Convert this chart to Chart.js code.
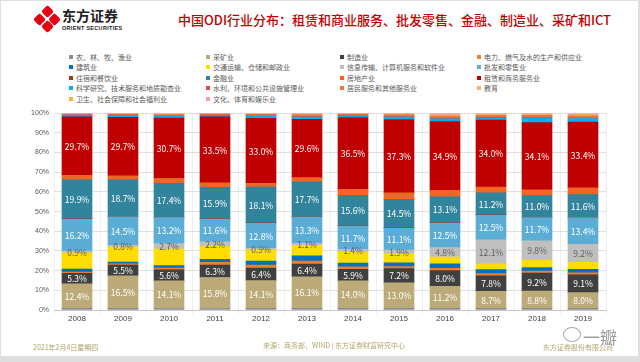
<!DOCTYPE html>
<html><head><meta charset="utf-8">
<script src="https://cdn.jsdelivr.net/npm/chart.js@4.4.1/dist/chart.umd.min.js"></script>
<style>
html,body{margin:0;padding:0;}
body{width:640px;height:362px;background:#dedede;position:relative;overflow:hidden;font-family:"Noto Sans CJK SC","Noto Sans",sans-serif;}
#panel{position:absolute;left:1px;top:1px;width:637px;height:355px;background:#fff;}
.logo{position:absolute;left:34px;top:6px;width:26px;height:26px;}
.logo div{position:absolute;width:9px;height:9px;background:#e60012;border-radius:2px;transform:rotate(45deg);}
#brand{position:absolute;left:62px;top:7px;font-size:14px;font-weight:bold;color:#222;line-height:16px;letter-spacing:0px;}
#brandEn{position:absolute;left:62px;top:25px;font-size:5.5px;font-weight:bold;color:#222;font-family:"Liberation Sans",sans-serif;letter-spacing:0.3px;}
#title{position:absolute;left:178px;top:11px;font-size:13px;color:#c00000;line-height:18px;white-space:nowrap;font-weight:500;}
#legend{position:absolute;left:0;top:52px;}
.li{position:absolute;font-size:7px;color:#595959;white-space:nowrap;line-height:10px;}
.li span{display:inline-block;width:4px;height:4px;margin-right:3px;vertical-align:1px;}
#chartBox{position:absolute;left:0;top:104px;width:640px;height:228px;}
.foot{position:absolute;font-size:7px;color:#b3a66b;white-space:nowrap;}
#wm{position:absolute;left:583px;top:324px;font-size:17px;color:#9a9a9a;}
#bubble{position:absolute;left:563px;top:327px;width:16px;height:13px;border:1px solid #aaa;border-radius:50%;}
</style></head>
<body>
<div id="panel"></div>
<div class="logo">
  <div style="left:8.5px;top:1px"></div>
  <div style="left:16px;top:8.5px"></div>
  <div style="left:8.5px;top:16px"></div>
  <div style="left:1px;top:8.5px"></div>
</div>
<div id="brand">东方证券</div>
<div id="brandEn">ORIENT SECURITIES</div>
<div id="title">中国ODI行业分布：租赁和商业服务、批发零售、金融、制造业、采矿和ICT</div>
<div id="legend"></div>
<div id="chartBox"><canvas id="c"></canvas></div>
<div class="foot" style="left:33px;top:342px;">2021年2月4日星期四</div>
<div class="foot" style="left:263px;top:340px;">来源：商务部，WIND | 东方证券财富研究中心</div>
<div class="foot" style="left:543px;top:342px;">东方证券股份有限公司</div>
<div id="bubble"></div>
<div id="wm">一瓣</div>
<script>
const years = ['2008','2009','2010','2011','2012','2013','2014','2015','2016','2017','2018','2019'];
const yTicks = [0,10,20,30,40,50,60,70,80,90,100];
const seriesNames = ['农、林、牧、渔业','采矿业','制造业','电力、燃气及水的生产和供应业','建筑业','交通运输、仓储和邮政业','信息传输、计算机服务和软件业','批发和零售业','住宿和餐饮业','金融业','房地产业','租赁和商务服务业','科学研究、技术服务和地质勘查业','水利、环境和公共设施管理业','居民服务和其他服务业','教育','卫生、社会保障和社会福利业','文化、体育和娱乐业'];
const agri      = [0.9,0.8,0.7,0.7,0.8,0.8,0.8,0.8,0.8,0.8,0.8,0.8];
const mining    = [12.4,16.5,14.1,15.8,14.1,16.1,14.0,13.0,11.2,8.7,8.8,8.0];
const manuf     = [5.3,5.5,5.6,6.3,6.4,6.4,5.9,7.2,8.0,7.8,9.2,9.1];
const power     = [0.7,0.6,0.9,1.4,1.5,1.5,1.2,1.0,1.2,1.2,1.0,1.0];
const constr    = [1.5,1.0,1.3,1.6,2.0,2.7,2.0,2.0,2.2,2.0,1.8,1.8];
const transport = [8.2,7.6,8.4,6.6,5.6,5.3,5.5,4.5,3.5,3.0,3.8,3.5];
const ict       = [0.9,0.8,2.7,2.2,0.9,1.1,1.4,1.9,4.8,12.1,9.8,9.2];
const wholesale = [16.2,14.5,13.2,11.6,12.8,13.3,11.7,11.1,12.5,12.5,11.7,13.4];
const hotel     = [0.2,0.1,0.1,0.2,0.2,0.2,0.2,0.2,0.2,0.2,0.2,0.2];
const finance   = [19.9,18.7,17.4,15.9,18.1,17.7,15.6,14.5,13.1,11.2,11.0,11.6];
const realty    = [2.2,2.1,2.4,2.3,2.0,2.2,3.0,3.3,3.3,3.0,3.0,3.5];
const leasing   = [29.7,29.7,30.7,33.5,33.0,29.6,36.5,37.3,34.9,34.0,34.1,33.4];
const science   = [0.9,1.0,1.0,0.6,1.5,1.1,1.0,1.2,1.5,1.2,2.5,1.8];
const water     = [0.2,0.3,0.2,0.5,0.2,0.3,0.2,0.3,0.3,0.3,0.3,0.4];
const resident  = [0.3,0.3,0.6,0.3,0.3,1.0,0.6,1.0,1.0,0.9,0.9,1.0];
const education = [0.1,0.1,0.1,0.1,0.1,0.2,0.1,0.2,0.3,0.3,0.3,0.3];
const health    = [0.1,0.1,0.1,0.1,0.1,0.1,0.1,0.1,0.2,0.2,0.2,0.2];
const culture   = [0.3,0.3,0.5,0.3,0.4,0.4,0.2,0.4,1.0,0.6,0.6,0.8];
const labeled   = [1,2,6,7,9,11];

const allSeries = [agri,mining,manuf,power,constr,transport,ict,wholesale,hotel,finance,realty,leasing,science,water,resident,education,health,culture];
const colors = ['#8c8c8c','#bcab78','#404040','#ed7d31','#0070c0','#ffdd00','#bfbfbf','#5badd6','#9c3a12','#31849b','#f26522','#c00000','#00b0f0','#e0474c','#f0793a','#f6ae7e','#f9b33a','#f0a3a6'];
const labelColors = {1:'#ffffff',2:'#ffffff',6:'#606060',7:'#ffffff',9:'#ffffff',11:'#ffffff'};

// HTML legend (4 columns, row-major)
const colX = [69,206,340,477];
const leg = document.getElementById('legend');
seriesNames.forEach((n,i)=>{
  const d = document.createElement('div');
  d.className='li';
  d.style.left = colX[i%4]+'px';
  d.style.top = (Math.floor(i/4)*10.4)+'px';
  d.innerHTML = '<span style="background:'+colors[i]+'"></span>'+n;
  leg.appendChild(d);
});

const segLabels = {
  id:'segLabels',
  afterDatasetsDraw(chart){
    const ctx = chart.ctx;
    chart.data.datasets.forEach((ds,i)=>{
      if(!labeled.includes(i)) return;
      const meta = chart.getDatasetMeta(i);
      meta.data.forEach((bar,j)=>{
        const c = bar.getCenterPoint();
        ctx.save();
        ctx.font = '8.5px "Noto Sans CJK SC"';
        ctx.fillStyle = labelColors[i];
        ctx.textAlign='center'; ctx.textBaseline='middle';
        ctx.fillText(ds.data[j].toFixed(1)+'%', c.x, c.y+0.5);
        ctx.restore();
      });
    });
  }
};

new Chart(document.getElementById('c'),{
  type:'bar',
  data:{
    labels:years,
    datasets: allSeries.map((s,i)=>({label:seriesNames[i],data:s,backgroundColor:colors[i],borderWidth:0,barThickness:30}))
  },
  options:{
    animation:false,responsive:true,maintainAspectRatio:false,
    layout:{padding:{top:6,right:34,left:0,bottom:0}},
    plugins:{legend:{display:false},tooltip:{enabled:false}},
    scales:{
      x:{stacked:true,
        grid:{color:'#efefef',drawTicks:true,tickLength:4,offset:true},
        border:{color:'#c8c8c8'},
        ticks:{color:'#404040',font:{size:8,family:'"Liberation Sans"'},padding:0,maxRotation:0},
        afterFit(s){s.height=22;}
      },
      y:{stacked:true,min:0,max:100,
        afterBuildTicks(s){s.ticks = yTicks.map(v=>({value:v}));},
        grid:{color:'#e0e0e0',drawTicks:false},
        border:{display:false},
        ticks:{color:'#595959',font:{size:7,family:'"Liberation Sans"'},padding:5,callback:v=>v+'%'},
        afterFit(s){s.width=54;}
      }
    }
  },
  plugins:[segLabels]
});
</script>
</body></html>
